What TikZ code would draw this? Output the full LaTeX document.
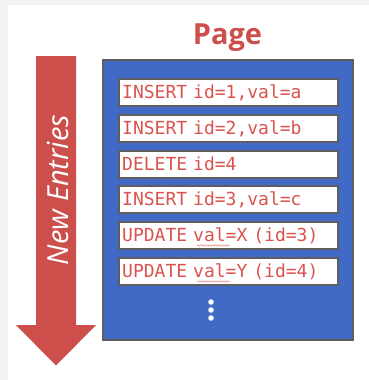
\documentclass[tikz,border=0pt]{standalone}
\usepackage{fontspec}
\setmainfont{Open Sans}
\newfontfamily\entryfont{DejaVu Sans Mono}
\usetikzlibrary{decorations.pathmorphing}
\definecolor{pagered}{HTML}{CC4F4B}
\definecolor{textred}{HTML}{D9534F}
\definecolor{pageblue}{HTML}{4169C6}
\definecolor{bordergray}{HTML}{5E5E5E}
\definecolor{margingray}{HTML}{F3F3F3}
\tikzset{
  entry/.style={draw=bordergray, line width=2.4pt, fill=white, minimum width=219pt, minimum height=27pt,
    inner sep=0pt, anchor=north west, text=textred, font=\entryfont\fontsize{18}{18}\selectfont,
    text width=213pt, align=left},
  squiggle/.style={draw=textred!70, line width=0.5pt, decorate, decoration={snake, amplitude=0.7pt, segment length=2.5pt}},
  dot/.style={circle, fill=white, inner sep=0pt, minimum size=5.5pt}
}
\begin{document}
\begin{tikzpicture}[x=1pt, y=-1pt]
\useasboundingbox (0,0) rectangle (369,380);
\fill[margingray] (0,0) rectangle (369,380);
\fill[white] (8,5) rectangle (369,380);
% arrow
\fill[pagered] (36,56) -- (76,56) -- (76,325) -- (96,325) -- (56,365.5) -- (16,325) -- (36,325) -- cycle;
\node[rotate=90, text=white, font=\itshape\fontsize{29}{29}\selectfont] (ne) at (58,190) {New Entries};
% page
\node[font=\bfseries\fontsize{29}{29}\selectfont, text=pagered] (title) at (227.5,38) {Page};
\node[draw=bordergray, line width=2.4pt, fill=pageblue, minimum width=250pt, minimum height=280pt, inner sep=0pt, anchor=north west] (page) at (102,59) {};
\node[entry] (e1) at (118,78) {INSERT id=1,val=a};
\node[entry] (e2) at (118,114) {INSERT id=2,val=b};
\node[entry] (e3) at (118,149.5) {DELETE id=4};
\node[entry] (e4) at (118,185) {INSERT id=3,val=c};
\node[entry] (e5) at (118,221) {UPDATE val=X (id=3)};
\node[entry] (e6) at (118,257) {UPDATE val=Y (id=4)};
\coordinate (s5a) at (197,245.5);
\coordinate (s5b) at (230,245.5);
\coordinate (s6a) at (197,281.5);
\coordinate (s6b) at (230,281.5);
\draw[squiggle] (s5a) -- (s5b);
\draw[squiggle] (s6a) -- (s6b);
\node[dot] (d1) at (211,302) {};
\node[dot] (d2) at (211,310) {};
\node[dot] (d3) at (211,318) {};
\end{tikzpicture}
\end{document}
